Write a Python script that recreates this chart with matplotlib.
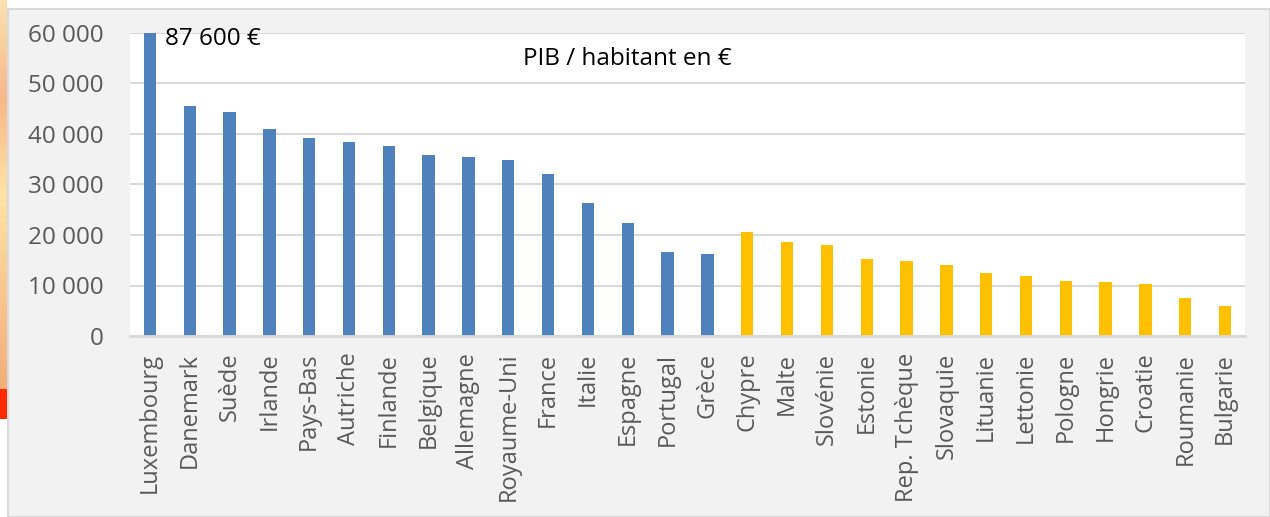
import matplotlib.pyplot as plt
from matplotlib.patches import Rectangle
from matplotlib.ticker import FuncFormatter
from matplotlib.colors import LinearSegmentedColormap
import numpy as np

plt.rcParams['font.family'] = ['Open Sans', 'DejaVu Sans']

# PIB par habitant (euros)
pays_zone_ouest = ["Luxembourg", "Danemark", "Suède", "Irlande", "Pays-Bas", "Autriche",
                   "Finlande", "Belgique", "Allemagne", "Royaume-Uni", "France", "Italie",
                   "Espagne", "Portugal", "Grèce"]
pib_zone_ouest = [87600, 45600, 44400, 41000, 39300, 38500, 37600, 35900, 35400, 34900,
                  32100, 26400, 22300, 16600, 16200]

pays_zone_est = ["Chypre", "Malte", "Slovénie", "Estonie", "Rep. Tchèque", "Slovaquie",
                 "Lituanie", "Lettonie", "Pologne", "Hongrie", "Croatie", "Roumanie", "Bulgarie"]
pib_zone_est = [20500, 18700, 18100, 15200, 14800, 14000, 12400, 11800, 10900, 10600,
                10200, 7500, 5900]

pays = pays_zone_ouest + pays_zone_est
couleurs = ["#4f81bd"] * len(pays_zone_ouest) + ["#ffc000"] * len(pays_zone_est)
valeurs = pib_zone_ouest + pib_zone_est

W, H = 1270, 517
fig = plt.figure(figsize=(W / 100, H / 100), dpi=100, facecolor="white")

# fond gris du graphique + bordure
fig.patches.append(Rectangle((8 / W, 0), 1 - 8 / W, 1 - 9 / H, transform=fig.transFigure,
                             facecolor="#f2f2f2", edgecolor="#d9d9d9", lw=1.5, zorder=-10))
# bande orange de la diapositive, à gauche
bande = fig.add_axes([0, (H - 389) / H, 7 / W, 389 / H])
grad = np.linspace(0, 1, 100).reshape(-1, 1)
bande.imshow(grad, aspect="auto", cmap=LinearSegmentedColormap.from_list(
    "o", ["#fbe0b0", "#f7b98a", "#fde3a8", "#f8c890", "#f2b078"]))
bande.axis("off")
fig.patches.append(Rectangle((0, (H - 419) / H), 7 / W, 30 / H, transform=fig.transFigure,
                             facecolor="#ff2a00", edgecolor="none", zorder=-5))

ax = fig.add_axes([130 / W, 1 - 336 / H, 1115 / W, 303 / H])
ax.set_zorder(5)
ax.set_facecolor("white")

x = np.arange(len(pays))
ax.bar(x, valeurs, width=0.31, color=couleurs, zorder=3)

ax.set_xlim(-0.5, len(pays) - 0.5)
ax.set_ylim(0, 60000)
ax.set_yticks(range(0, 60001, 10000))
ax.yaxis.set_major_formatter(FuncFormatter(lambda v, p: f"{int(v):,}".replace(",", " ")))
ax.set_xticks(x)
ax.set_xticklabels(pays, rotation=90)

ax.grid(axis="y", color="#d9d9d9", lw=1.5, zorder=0)
ax.set_axisbelow(True)
for s in ["left", "right", "top"]:
    ax.spines[s].set_visible(False)
ax.spines["bottom"].set_color("#d9d9d9")
ax.spines["bottom"].set_linewidth(2)
ax.spines["bottom"].set_zorder(4)

ax.tick_params(axis="y", length=0, pad=19, labelsize=17.5, labelcolor="#595959")
ax.tick_params(axis="x", length=0, pad=12, labelsize=17, labelcolor="#595959")

ax.text(0.38, 58900, "87 600 €", fontsize=17.5, color="black", ha="left", va="center", zorder=5)
ax.text(0.446, 0.915, "PIB / habitant en €", transform=ax.transAxes, fontsize=17.5,
        color="black", ha="center", va="center")

fig.savefig("out.png", dpi=100, facecolor=fig.get_facecolor())
